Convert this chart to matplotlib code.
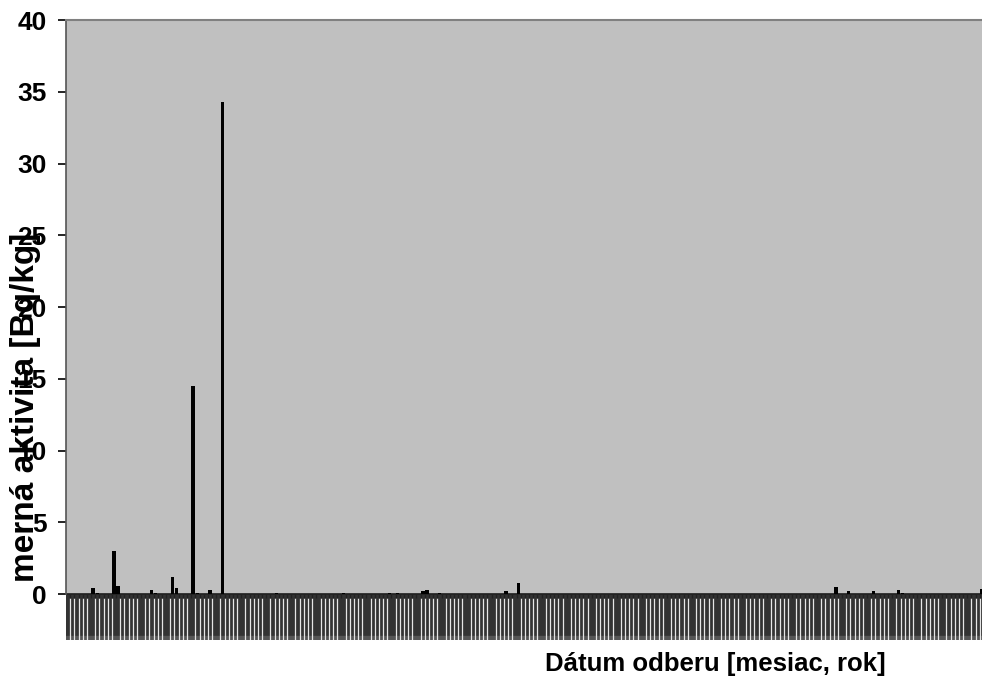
import numpy as np
import matplotlib
matplotlib.use("Agg")
import matplotlib.pyplot as plt

plt.rcParams['font.family'] = ['Liberation Sans', 'DejaVu Sans']

# Sampling events (category slots along the date axis) and measured activity
n_samples = 220
sample_idx = [6, 7, 11, 12, 20, 21, 25, 26, 30, 31, 34, 37, 50, 66, 77, 79,
              85, 86, 89, 105, 108, 184, 187, 193, 199, 200, 219]
activity = [0.4, 0.1, 3.0, 0.58, 0.28, 0.1, 1.18, 0.42, 14.5, 0.05, 0.28, 34.3,
            0.08, 0.08, 0.1, 0.1, 0.2, 0.3, 0.1, 0.2, 0.75, 0.46, 0.2, 0.2,
            0.3, 0.1, 0.33]

values = np.zeros(n_samples)
values[sample_idx] = activity
x = np.arange(n_samples)

fig = plt.figure(figsize=(9.82, 6.82), dpi=100)
ax = fig.add_axes([66 / 982, 42 / 682, 1 - 66 / 982 + 0.002, 620 / 682])

ymin = -3.2
ax.set_xlim(-0.5, n_samples - 0.5)
ax.set_ylim(ymin, 40)
ax.set_facecolor('white')

# plot area background above the category axis
ax.axhspan(0, 40, color='#C0C0C0', zorder=0)

# densely packed date labels under the axis appear as a dark band
ax.axhspan(ymin, 0, color='#333333', zorder=0.5)
ax.axhspan(ymin, ymin + 0.25, color='#555555', zorder=0.6)
gap_x = [i + 0.5 for i in range(-1, n_samples) if i % 6 != 5]
ax.vlines(gap_x, ymin, -0.25, color='#E6E6E6', lw=0.9, zorder=0.7)

ax.bar(x, values, width=0.85, color='black', zorder=3)

# category axis line with small ticks
ax.axhline(0, color='#222222', lw=1.2, zorder=2)
ax.plot(x + 0.5, np.full(n_samples, -0.12), ls='none', marker='|',
        ms=3, color='#222222', zorder=2)

for s in ['right', 'bottom']:
    ax.spines[s].set_visible(False)
ax.spines['top'].set_color('#808080')
ax.spines['top'].set_linewidth(1.5)
ax.spines['left'].set_color('#555555')
ax.spines['left'].set_linewidth(1.2)
ax.spines['left'].set_bounds(0, 40)

ax.set_yticks(np.arange(0, 41, 5))
ax.tick_params(axis='y', length=6, width=1.2, color='black', pad=8,
               labelsize=19)
for t in ax.get_yticklabels():
    t.set_fontweight('bold')
ax.set_xticks([])

fig.text(0.026, 0.403, 'merná aktivita [Bq/kg]', rotation=90, ha='center',
         va='center', fontsize=24, fontweight='bold')
fig.text(0.728, 0.026, 'Dátum odberu [mesiac, rok]', ha='center',
         va='center', fontsize=18.5, fontweight='bold')

fig.savefig('out.png', dpi=100)
